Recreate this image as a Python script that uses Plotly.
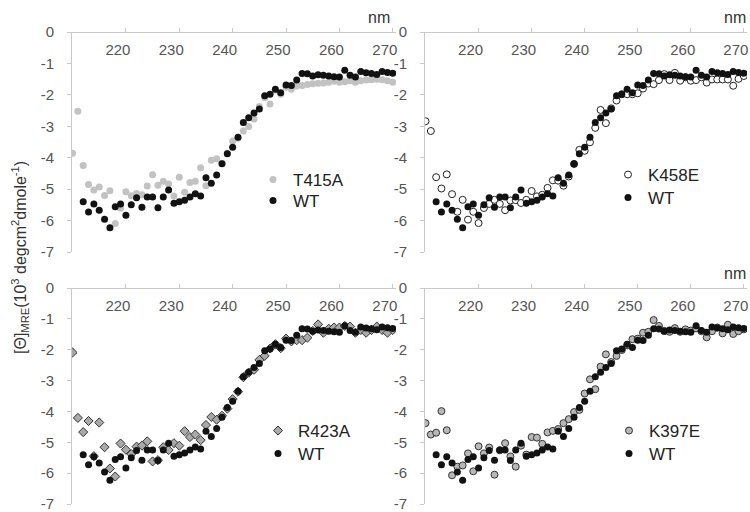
import plotly.graph_objects as go

# wavelengths (nm)
wl_mut = list(range(210, 271))
wl_wt = list(range(212, 271))

wt = [-5.40, -5.73, -5.47, -5.67, -5.96, -6.23, -5.56, -5.47, -5.83, -5.50,
      -5.27, -5.58, -5.25, -5.25, -5.59, -5.25, -5.03, -5.45, -5.40, -5.35,
      -5.25, -5.15, -5.22, -4.64, -4.81, -4.55, -4.19, -3.87, -3.67, -3.35,
      -2.88, -2.73, -2.58, -2.45, -2.03, -1.98, -1.82, -1.93, -1.69, -1.70,
      -1.53, -1.32, -1.33, -1.40, -1.36, -1.38, -1.40, -1.42, -1.43, -1.22,
      -1.38, -1.43, -1.26, -1.30, -1.32, -1.35, -1.26, -1.29, -1.31]

t415a = [-3.86, -2.52, -4.25, -4.85, -5.03, -4.93, -5.20, -5.05, -6.09, -5.61,
         -5.08, -5.21, -5.14, -5.18, -4.90, -4.54, -4.88, -4.75, -4.84, -5.22,
         -4.62, -5.10, -4.79, -4.75, -4.32, -4.89, -4.08, -4.03, -4.18, -3.86,
         -3.47, -3.38, -3.15, -3.01, -2.77, -2.37, -2.09, -2.29, -1.85, -1.98,
         -1.76, -1.82, -1.72, -1.70, -1.67, -1.65, -1.63, -1.62, -1.60, -1.57,
         -1.60, -1.58, -1.55, -1.60, -1.55, -1.53, -1.52, -1.50, -1.52, -1.55,
         -1.60]

k458e = [-2.84, -3.15, -4.62, -4.98, -4.53, -5.16, -5.72, -5.34, -5.97, -5.72,
         -6.08, -5.60, -5.47, -5.34, -5.47, -5.67, -5.36, -5.35, -5.44, -5.34,
         -5.06, -5.23, -5.18, -4.96, -4.72, -4.73, -4.89, -4.60, -4.20, -3.75,
         -3.78, -3.51, -3.05, -2.48, -2.90, -2.43, -2.18, -1.98, -1.98, -1.98,
         -1.95, -1.80, -1.64, -1.66, -1.53, -1.34, -1.53, -1.30, -1.55, -1.44,
         -1.55, -1.53, -1.44, -1.61, -1.51, -1.51, -1.51, -1.51, -1.71, -1.49,
         -1.40]

r423a = [-2.09, -4.21, -4.67, -4.31, -5.45, -4.36, -5.16, -5.85, -6.11, -5.04,
         -5.24, -5.38, -5.14, -5.11, -4.97, -5.62, -5.58, -5.16, -5.25, -5.03,
         -5.11, -4.64, -4.83, -4.75, -4.93, -4.44, -4.18, -4.27, -4.14, -3.91,
         -3.60, -3.36, -2.89, -2.74, -2.65, -2.33, -2.20, -1.96, -1.82, -1.95,
         -1.64, -1.73, -1.69, -1.69, -1.61, -1.39, -1.18, -1.45, -1.32, -1.28,
         -1.28, -1.23, -1.25, -1.45, -1.36, -1.45, -1.36, -1.25, -1.36, -1.45,
         -1.36]

k397e = [-4.38, -4.75, -4.69, -3.99, -4.61, -6.07, -5.79, -5.75, -5.36, -5.94,
         -5.13, -5.36, -5.17, -6.05, -5.26, -5.03, -5.46, -5.79, -5.11, -5.40,
         -4.83, -4.85, -5.05, -4.68, -4.63, -4.57, -4.38, -4.25, -4.02, -3.95,
         -3.42, -2.96, -3.28, -2.55, -2.15, -2.40, -2.20, -2.01, -1.86, -1.66,
         -1.64, -1.45, -1.42, -1.04, -1.23, -1.39, -1.42, -1.30, -1.42, -1.34,
         -1.38, -1.31, -1.40, -1.60, -1.40, -1.28, -1.47, -1.19, -1.49, -1.40,
         -1.34]

y_ticks = [0, -1, -2, -3, -4, -5, -6, -7]
y_tick_text = ["0", "-1", "-2", "-3", "-4", "-5", "-6", "-7"]
x_ticks = [220, 230, 240, 250, 260, 270]

FONT = "Liberation Sans, Arial, sans-serif"
AXIS_COL = "#c9c9c9"
TICK_COL = "#555555"

W, H = 750, 512


def px_x(v):
    return v / W


def px_y(v):
    return 1 - v / H


fig = go.Figure()

# (name, data, marker, xaxis, yaxis, legend for mutant, legend for WT)
panels = [
    ("T415A", t415a, dict(color="#c2c2c2", size=7, symbol="circle", line=dict(width=0)), "x", "y", "legend", "legend5"),
    ("K458E", k458e, dict(color="white", size=7, symbol="circle", line=dict(color="#222222", width=1)), "x2", "y2", "legend2", "legend6"),
    ("R423A", r423a, dict(color="#a9a9a9", size=7, symbol="diamond", line=dict(color="#333333", width=1)), "x3", "y3", "legend3", "legend7"),
    ("K397E", k397e, dict(color="#b7b7b7", size=7, symbol="circle", line=dict(color="#333333", width=1)), "x4", "y4", "legend4", "legend8"),
]

for name, data, mk, xa, ya, lg, lgw in panels:
    fig.add_trace(go.Scatter(x=wl_mut, y=data, mode="markers", name=name,
                             marker=mk, xaxis=xa, yaxis=ya, legend=lg))
    fig.add_trace(go.Scatter(x=wl_wt, y=wt, mode="markers", name="WT",
                             marker=dict(color="#121212", size=7, line=dict(width=0)),
                             xaxis=xa, yaxis=ya, legend=lgw))

xdoms = [(px_x(72), px_x(396)), (px_x(425), px_x(747))]
ydoms = [(px_y(252), px_y(32)), (px_y(504), px_y(288))]

layout = dict(
    width=W, height=H,
    paper_bgcolor="white", plot_bgcolor="white",
    margin=dict(l=0, r=0, t=0, b=0, pad=0),
    font=dict(family=FONT, color=TICK_COL),
    showlegend=True,
)

for i in range(4):
    col = i % 2
    row = i // 2
    sx = "" if i == 0 else str(i + 1)
    layout["xaxis" + sx] = dict(
        domain=list(xdoms[col]), anchor="free", position=ydoms[row][1],
        side="bottom", range=[209.9, 270.6], tickvals=x_ticks,
        ticks="inside", ticklen=4, tickcolor=AXIS_COL, automargin=False,
        showline=True, linecolor=AXIS_COL, linewidth=1, ticklabeloverflow="allow",
        showgrid=False, zeroline=False, ticklabelstandoff=4, ticklabelshift=-8,
        tickfont=dict(size=15, color=TICK_COL, family=FONT),
    )
    layout["yaxis" + sx] = dict(
        domain=list(ydoms[row]), anchor="x" + sx,
        range=[-7, 0], tickvals=y_ticks, ticktext=y_tick_text,
        ticks="outside", ticklen=4, tickcolor=AXIS_COL, automargin=False,
        showline=True, linecolor=AXIS_COL, linewidth=1, ticklabeloverflow="allow",
        showgrid=False, zeroline=False, ticklabelstandoff=10,
        tickfont=dict(size=15, color=TICK_COL, family=FONT),
    )

leg_common = dict(xref="paper", yref="paper", xanchor="left", yanchor="top",
                  bgcolor="rgba(0,0,0,0)", borderwidth=0, itemwidth=30,
                  tracegroupgap=0,
                  font=dict(size=17, color="#222222", family=FONT))
# legend box top-left corners (px): mutant row, then WT row
leg_pos = {
    "legend": (253, 162), "legend5": (253, 183),
    "legend2": (608, 157), "legend6": (608, 180),
    "legend3": (258, 413), "legend7": (258, 436),
    "legend4": (609, 413), "legend8": (609, 436),
}
for k, (lx, ly) in leg_pos.items():
    layout[k] = dict(leg_common, x=px_x(lx), y=px_y(ly))

fig.update_layout(**layout)

# "nm" unit labels
for ya, rx in [("y", 392), ("y2", 748), ("y4", 748)]:
    top = 32 if ya in ("y", "y2") else 288
    fig.add_annotation(text="nm", xref="paper", yref="paper",
                       x=px_x(rx), y=px_y(top), xanchor="right", yanchor="bottom", yshift=4,
                       showarrow=False, font=dict(size=16, color="#333333", family=FONT))

fig.add_annotation(
    text="[Θ]<sub>MRE</sub>(10<sup>3</sup> degcm<sup>2</sup>dmole<sup>-1</sup>)",
    xref="paper", yref="paper", x=px_x(20), y=px_y(258), textangle=-90,
    showarrow=False, xanchor="center", yanchor="middle",
    font=dict(size=16, color="#333333", family=FONT))

fig.write_html("out.html", config={"displayModeBar": False},
               post_script="document.body.style.margin='0';")
